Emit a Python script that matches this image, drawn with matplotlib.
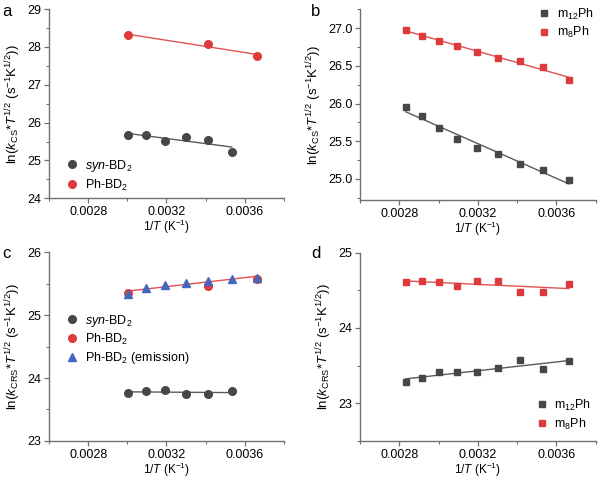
import numpy as np
import matplotlib
matplotlib.use("Agg")
import matplotlib.pyplot as plt
from matplotlib.ticker import MultipleLocator, FixedLocator

plt.rcParams['font.family'] = ['Liberation Sans', 'DejaVu Sans']
plt.rcParams['mathtext.fontset'] = 'custom'
plt.rcParams['mathtext.rm'] = 'Liberation Sans'
plt.rcParams['mathtext.it'] = 'Liberation Sans:italic'
plt.rcParams['mathtext.bf'] = 'Liberation Sans:bold'

# ---- data ----
temps7 = [333, 323, 313, 303, 293, 283, 273]
temps9 = [353, 343, 333, 323, 313, 303, 293, 283, 273]

# panel a
a_syn_x = [1/333, 1/323, 1/313, 1/303, 1/293, 1/283]
a_syn_y = [25.67, 25.67, 25.51, 25.63, 25.54, 25.23]
a_ph_x = [1/333, 1/293, 1/273]
a_ph_y = [28.31, 28.07, 27.76]

# panel b
b_x = [1/t for t in temps9]
b_m12 = [25.96, 25.84, 25.67, 25.53, 25.41, 25.33, 25.20, 25.12, 24.98]
b_m8 = [26.98, 26.90, 26.83, 26.77, 26.68, 26.60, 26.57, 26.49, 26.31]

# panel c
c_syn_x = [1/333, 1/323, 1/313, 1/303, 1/293, 1/283]
c_syn_y = [23.77, 23.79, 23.81, 23.74, 23.75, 23.79]
c_ph_x = [1/333, 1/293, 1/273]
c_ph_y = [25.35, 25.47, 25.57]
c_em_x = [1/t for t in temps7]
c_em_y = [25.34, 25.43, 25.48, 25.51, 25.55, 25.58, 25.59]

# panel d
d_x = [1/t for t in temps9]
d_m12 = [23.28, 23.34, 23.41, 23.42, 23.42, 23.47, 23.57, 23.46, 23.56]
d_m8 = [24.61, 24.63, 24.61, 24.56, 24.62, 24.63, 24.48, 24.48, 24.58]

GREY = '#474747'
RED = '#dd3b3b'
BLUE = '#4466bb'
LGREY = '#5a5a5a'
LRED = '#e35050'
SPINE = '#707070'

fig = plt.figure(figsize=(6.14, 4.8), dpi=100)

def setup(ax, ylim, major, minor, fmt, ylabel):
    ax.set_xlim(0.0026, 0.0038)
    ax.set_ylim(*ylim)
    ax.xaxis.set_major_locator(FixedLocator([0.0028, 0.0032, 0.0036]))
    ax.xaxis.set_minor_locator(FixedLocator([0.0026, 0.0030, 0.0034, 0.0038]))
    ax.set_xticklabels(['0.0028', '0.0032', '0.0036'])
    ax.yaxis.set_major_locator(MultipleLocator(major))
    ax.yaxis.set_minor_locator(MultipleLocator(minor))
    ax.yaxis.set_major_formatter(matplotlib.ticker.FormatStrFormatter(fmt))
    for s in ['top', 'right']:
        ax.spines[s].set_visible(False)
    for s in ['left', 'bottom']:
        ax.spines[s].set_color(SPINE)
        ax.spines[s].set_linewidth(1.0)
    ax.tick_params(which='major', length=3.5, width=0.9, color=SPINE, labelsize=9, pad=2)
    ax.tick_params(which='minor', length=2, width=0.8, color=SPINE)
    ax.set_xlabel(r'1/$\mathit{T}$ (K$^{-1}$)', fontsize=8.5, labelpad=0)
    ax.set_ylabel(ylabel, fontsize=9.5, labelpad=3)

def fitline(ax, x, y, color):
    x = np.asarray(x); y = np.asarray(y)
    p = np.polyfit(x, y, 1)
    xx = np.array([x.min(), x.max()])
    ax.plot(xx, np.polyval(p, xx), color=color, lw=1.0, zorder=2)

ylab_cs = r'ln($\mathit{k}_{\mathrm{CS}}$*$\mathit{T}^{1/2}$ (s$^{-1}$K$^{1/2}$))'
ylab_crs = r'ln($\mathit{k}_{\mathrm{CRS}}$*$\mathit{T}^{1/2}$ (s$^{-1}$K$^{1/2}$))'

# a
axa = fig.add_axes([0.0798, 0.587, 0.3827, 0.394])
setup(axa, (24, 29), 1, 0.5, '%d', ylab_cs)
fitline(axa, a_syn_x, a_syn_y, LGREY)
fitline(axa, a_ph_x, a_ph_y, LRED)
axa.plot(a_syn_x, a_syn_y, 'o', color=GREY, ms=5.5, ls='none', label=r'$\mathit{syn}$-BD$_2$', zorder=3)
axa.plot(a_ph_x, a_ph_y, 'o', color=RED, ms=5.5, ls='none', label=r'Ph-BD$_2$', zorder=3)
axa.legend(loc='lower left', bbox_to_anchor=(0.02, -0.03), frameon=False, fontsize=9,
           handletextpad=0.4, labelspacing=0.3, handlelength=1.2)

# b
axb = fig.add_axes([0.5863, 0.5833, 0.384, 0.397])
setup(axb, (24.72, 27.25), 0.5, 0.25, '%.1f', ylab_cs)
fitline(axb, b_x, b_m12, LGREY)
fitline(axb, b_x, b_m8, LRED)
axb.plot(b_x, b_m12, 's', color=GREY, ms=4.8, ls='none', label=r'm$_{12}$Ph', zorder=3)
axb.plot(b_x, b_m8, 's', color=RED, ms=4.8, ls='none', label=r'm$_{8}$Ph', zorder=3)
axb.legend(loc='upper right', bbox_to_anchor=(1.04, 1.075), frameon=False, fontsize=9,
           handletextpad=0.4, labelspacing=0.3, handlelength=1.2)

# c
axc = fig.add_axes([0.0798, 0.0815, 0.3827, 0.3925])
setup(axc, (23, 26), 1, 0.5, '%d', ylab_crs)
fitline(axc, c_syn_x, c_syn_y, LGREY)
fitline(axc, c_em_x, c_em_y, LRED)
axc.plot(c_syn_x, c_syn_y, 'o', color=GREY, ms=5.5, ls='none', label=r'$\mathit{syn}$-BD$_2$', zorder=3)
axc.plot(c_ph_x, c_ph_y, 'o', color=RED, ms=5.5, ls='none', label=r'Ph-BD$_2$', zorder=3)
axc.plot(c_em_x, c_em_y, '^', color=BLUE, ms=5.8, ls='none', label=r'Ph-BD$_2$ (emission)', zorder=4)
axc.legend(loc='upper left', bbox_to_anchor=(0.02, 0.74), frameon=False, fontsize=9,
           handletextpad=0.4, labelspacing=0.25, handlelength=1.2)

# d
axd = fig.add_axes([0.5863, 0.0815, 0.384, 0.392])
setup(axd, (22.5, 25), 1, 0.5, '%d', ylab_crs)
fitline(axd, d_x, d_m12, LGREY)
fitline(axd, d_x, d_m8, LRED)
axd.plot(d_x, d_m12, 's', color=GREY, ms=4.8, ls='none', label=r'm$_{12}$Ph', zorder=3)
axd.plot(d_x, d_m8, 's', color=RED, ms=4.8, ls='none', label=r'm$_{8}$Ph', zorder=3)
axd.legend(loc='lower right', bbox_to_anchor=(1.03, -0.01), frameon=False, fontsize=9,
           handletextpad=0.4, labelspacing=0.3, handlelength=1.2)

for lab, x, y in [('a', 2, 11), ('b', 311, 11), ('c', 2, 253), ('d', 311, 253)]:
    fig.text(x / 614, 1 - y / 480, lab, fontsize=12, va='center', ha='left')

fig.savefig('out.png', dpi=100)
